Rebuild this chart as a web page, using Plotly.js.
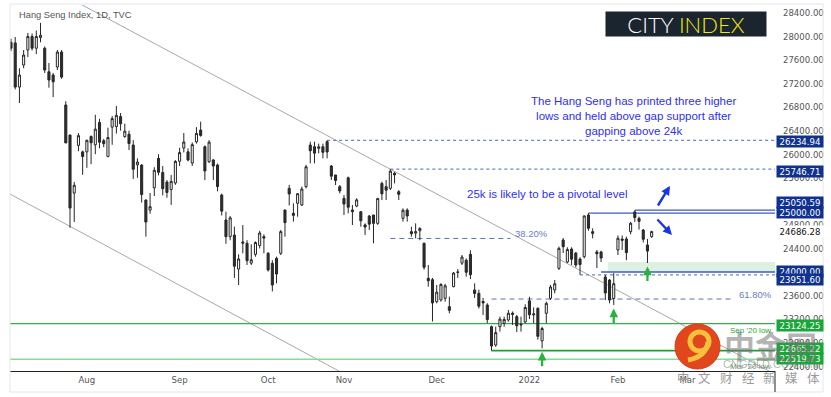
<!DOCTYPE html>
<html><head><meta charset="utf-8">
<script src="https://cdn.plot.ly/plotly-3.0.1.min.js"></script>
<style>html,body{margin:0;padding:0;background:#fff;overflow:hidden}#chart{width:831px;height:397px}</style>
</head><body><div id="chart"></div>
<script>
// ---------------- DATA ----------------
const dates = [
'2021-07-07','2021-07-08','2021-07-09','2021-07-12','2021-07-13','2021-07-14','2021-07-15','2021-07-16','2021-07-19','2021-07-20',
'2021-07-21','2021-07-22','2021-07-23','2021-07-26','2021-07-27','2021-07-28','2021-07-29','2021-07-30',
'2021-08-02','2021-08-03','2021-08-04','2021-08-05','2021-08-06','2021-08-09','2021-08-10','2021-08-11','2021-08-12','2021-08-13',
'2021-08-16','2021-08-17','2021-08-18','2021-08-19','2021-08-20','2021-08-23','2021-08-24','2021-08-25','2021-08-26','2021-08-27',
'2021-08-30','2021-08-31',
'2021-09-01','2021-09-02','2021-09-03','2021-09-06','2021-09-07','2021-09-08','2021-09-09','2021-09-10','2021-09-13','2021-09-14',
'2021-09-15','2021-09-16','2021-09-17','2021-09-20','2021-09-21','2021-09-23','2021-09-24','2021-09-27','2021-09-28','2021-09-29','2021-09-30',
'2021-10-04','2021-10-05','2021-10-06','2021-10-07','2021-10-08','2021-10-11','2021-10-12','2021-10-15','2021-10-18','2021-10-19',
'2021-10-20','2021-10-21','2021-10-22','2021-10-25','2021-10-26','2021-10-27','2021-10-28','2021-10-29',
'2021-11-01','2021-11-02','2021-11-03','2021-11-04','2021-11-05','2021-11-08','2021-11-09','2021-11-10','2021-11-11','2021-11-12',
'2021-11-15','2021-11-16','2021-11-17','2021-11-18','2021-11-19','2021-11-22','2021-11-23','2021-11-24','2021-11-25','2021-11-26',
'2021-11-29','2021-11-30',
'2021-12-01','2021-12-02','2021-12-03','2021-12-06','2021-12-07','2021-12-08','2021-12-09','2021-12-10','2021-12-13','2021-12-14',
'2021-12-15','2021-12-16','2021-12-17','2021-12-20','2021-12-21','2021-12-22','2021-12-23','2021-12-24','2021-12-28','2021-12-29',
'2021-12-30','2021-12-31',
'2022-01-03','2022-01-04','2022-01-05','2022-01-06','2022-01-07','2022-01-10','2022-01-11','2022-01-12','2022-01-13','2022-01-14',
'2022-01-17','2022-01-18','2022-01-19','2022-01-20','2022-01-21','2022-01-24','2022-01-25','2022-01-26','2022-01-27','2022-01-28',
'2022-01-31',
'2022-02-04','2022-02-07','2022-02-08','2022-02-09','2022-02-10','2022-02-11','2022-02-14','2022-02-15','2022-02-16'
];
const openP = [
27900,27890,27140,27515,27770,28000,27800,27980,27800,27400,27345,27480,27735,26836,26326,25340,26150,26040,
26040,26300,26160,26540,26230,25960,26460,26470,26640,26300,26340,26156,25820,25817,25223,25050,25430,25930,25690,25528,25400,25511,
25880,26105,26040,25850,26210,26411,26128,25873,25902,25817,25307,24883,24600,24628,24050,24487,24487,24150,24300,24450,24600,
24317,24147,24232,24317,25053,25420,24996,25166,25138,25449,26156,26128,26100,26128,26213,25800,25647,25449,
25251,25600,25053,25120,25024,24800,24951,24968,24826,25505,25449,25421,25675,25364,24911,25053,24685,24660,24700,24487,23893,23870,
23496,23525,23553,23412,23751,24000,24150,24200,24300,23695,23638,23500,23440,23072,22760,23072,23130,23185,23300,23242,23100,23150,
23510,23270,23383,22830,23299,23553,23695,24063,24543,24170,24390,24322,24220,24260,24968,24685,24340,24340,23915,23864,23550,
24374,24560,24560,24685,25020,24911,24713,24458,24600
];
const highP = [
27960,27990,27460,27770,28060,28050,28100,28230,27830,27550,27380,27770,27770,26900,26330,25530,26360,26060,
26250,26320,26670,26600,26260,26450,26650,26820,26700,26520,26400,26240,25930,25830,25230,25340,25780,26000,25800,25560,25650,25900,
26110,26360,26100,26200,26460,26553,26150,26240,25920,25840,25330,25024,24950,24770,24300,24798,24540,24470,24520,24700,24640,
24340,24200,24260,24713,25060,25480,25166,25340,25450,25820,26213,26213,26180,26180,26234.94,25817,25650,25477,
25307,25620,25138,25251,25030,24826,24968,24970,25260,25534,25562,25746.71,25700,25392,25081,25081,24770,24826,24760,24500,24119,23900,
23780,23808,23800,23582,24000,24050,24290,24230,24370,23808,23700,23560,23470,23090,23072,23242,23242,23355,23330,23270,23242,23450,
23580,23400,23400,23072,23497,23780,23865,24430,24577,24420,24420,24340,24250,24960,25000,24742,24374,24360,23950,23880,23983,
24620,24620,24600,24850,25050.59,24940,24730,24560,24700
];
const lowP = [
27750,27100,26870,27460,27650,27760,27700,27900,27380,27130,26970,27430,27280,26190,24750,24850,26050,25650,
25770,25830,26000,26100,26120,25950,26160,26350,26400,26280,26070,25580,25600,25180,24600,24990,25290,25640,25300,25260,25140,25480,
25800,26030,25880,25800,26180,26298,25560,25850,25562,25370,24960,24480,24540,23900,23779,24317,24120,24119,24260,24400,24317,
24006,23670,23807,24289,24600,25130,24855,24939,25120,25420,25845,25845,26015,25930,25930,25562,25477,25336,
24968,24996,24798,25100,24770,24628,24713,24487,24800,25222,25222,25392,25505,25222,24855,24855,24600,24572,24540,24040,23751,23160,
23468,23497,23497,23298,23740,23900,24120,23920,23880,23560,23380,23270,23130,22665.22,22730,22987,23072,23157,23100,22980,22987,23130,
23200,23130,22850,22704,23130,23525,23638,24034,24322,24150,24120,24080,23951.60,24230,24700,24572,24068,24170,23524,23468,23440,
24289,24374,24200,24640,24850,24720,24500,24153,24580
];
const closeP = [
27800,27140,27345,27685,28000,27800,28000,28020,27430,27260,27230,27735,27310,26192,25086,25473,26316,25961,
26235,26194,26426,26204,26179,26283,26605,26660,26517,26391,26181,25745,25867,25316,24849,25109,25727,25693,25415,25350,25539,25878,
26028,26207,25901,26163,26353,26320,25716,26205,25800,25450,25033,24600,24920,24099,24221,24510,24192,24208,24500,24663,24576,
24036,23780,23966,24685,24838,25326,24962,25330,25409,25787,26060,26018,26126,26032,26038,25628,25555,25377,
25154,25100,25025,25225,24870,24763,24813,24826,25247,25327,25390,25713,25650,25319,25049,24951,24651,24685,24740,24080,23852,23475,
23658,23789,23766,23349,23983,23996,24254,23995,23954,23635,23420,23475,23192,22744,22971,23200,23193,23300,23280,23086,23112,23397,
23274,23289,22907,23040,23468,23746,23800,24402,24429,24383,24218,24119,24127,24952,24742,24656,24310,24238,23643,23524,23802,
24573,24540,24329,24829,24924,24860,24556,24355,24686.28
];

// month tick labels
const monthLabels = {'08':'Aug','09':'Sep','10':'Oct','11':'Nov','12':'Dec','01':'2022','02':'Feb'};
const futureTickLabels = ['Mar'];
const futureTickBarsAhead = [8.5];

// horizontal levels (blue)
const levelPrices = [26234.94, 25746.71, 25050.59, 25000.00, 24000.00, 23951.60];
const levelFrom   = ['2021-10-26','2021-11-16','2022-02-10','2022-01-21','2022-01-26','2022-01-19'];
// support levels (green)
const supportPrices = [23124.25, 22665.22, 22519.73];
const supportFrom   = [null, '2021-12-20', null];
const supportNames  = ["Sep '20 low", '', "Mar '20 low"];
// fibonacci retracement levels
const fibNames  = ['38.20%', '61.80%'];
const fibPrices = [24570, 23541];
const fibFrom   = ['2021-11-16', '2021-12-20'];
// gap support zone
const gapZone = [24000, 24170];
const gapFrom = '2022-01-27';
// channel trend lines (bar index, price anchors)
const upperTrendIdx = [16.9, 180.0];
const upperTrendPrice = [28534, 22312];
const lowerTrendIdx = [-0.24, 77.8];
const lowerTrendPrice = [25324, 22319];
// higher lows
const higherLowDates = ['2022-01-06', '2022-01-31', '2022-02-15'];

// ---------------- LAYOUT HELPERS ----------------
const PL = 10, PR = 775, PT = 5, PB = 371;
const px = x => (x - PL) / (PR - PL);
const py = y => (PB - y) / (PB - PT);
const XMIN = -0.237, XMAX = 181.26;
const YMIN = 22319, YMAX = 28534;
const FONT = 'Liberation Sans Narrow, DejaVu Sans Condensed, Liberation Sans, Arial, sans-serif';
const ARIAL = 'Liberation Sans, Arial, sans-serif';
const idxOf = d => dates.indexOf(d);
const xIdx = dates.map((d, i) => i);

// ticks
const tickvals = [], ticktext = [];
for (let i = 1; i < dates.length; i++) {
  const m = dates[i].slice(5, 7);
  if (m !== dates[i - 1].slice(5, 7)) { tickvals.push(i); ticktext.push(monthLabels[m]); }
}
futureTickLabels.forEach((t, j) => { tickvals.push(dates.length - 1 + futureTickBarsAhead[j]); ticktext.push(t); });

const candle = {
  type: 'candlestick', x: xIdx, open: openP, high: highP, low: lowP, close: closeP,
  increasing: {line: {color: '#262626', width: 1}, fillcolor: '#ffffff'},
  decreasing: {line: {color: '#262626', width: 1}, fillcolor: '#2e2e2e'},
  whiskerwidth: 0, hoverinfo: 'skip', showlegend: false
};

const shapes = [];
// gap zone
shapes.push({type: 'rect', xref: 'x', yref: 'y', x0: idxOf(gapFrom) + 0.6, x1: XMAX, y0: gapZone[0], y1: gapZone[1],
  fillcolor: 'rgba(120,200,140,0.25)', line: {width: 0}, layer: 'below'});
// trend lines
shapes.push({type: 'line', xref: 'x', yref: 'y', x0: upperTrendIdx[0], x1: upperTrendIdx[1], y0: upperTrendPrice[0], y1: upperTrendPrice[1],
  line: {color: '#a8a8a8', width: 1}, layer: 'below'});
shapes.push({type: 'line', xref: 'x', yref: 'y', x0: lowerTrendIdx[0], x1: lowerTrendIdx[1], y0: lowerTrendPrice[0], y1: lowerTrendPrice[1],
  line: {color: '#a8a8a8', width: 1}, layer: 'below'});
// blue levels
const levelDash = ['dot', 'dot', 'solid', 'solid', 'solid', 'dot'];
levelPrices.forEach((p, j) => {
  shapes.push({type: 'line', xref: 'x', yref: 'y', x0: idxOf(levelFrom[j]), x1: XMAX, y0: p, y1: p,
    line: {color: levelDash[j] === 'dot' ? '#7083c8' : '#3f5db8', width: levelDash[j] === 'dot' ? 1.2 : 1.3, dash: levelDash[j]}, layer: 'below'});
});
// fib lines
const fibTo = [118.5, 171.6];
fibPrices.forEach((p, j) => {
  shapes.push({type: 'line', xref: 'x', yref: 'y', x0: idxOf(fibFrom[j]), x1: fibTo[j], y0: p, y1: p,
    line: {color: '#5b6fc0', width: 1, dash: '5px,4px'}, layer: 'below'});
});
// green supports
const supColor = ['#34b04a', '#1f9e34', '#8ed79a'];
const supWidth = [1.3, 1.8, 1.5];
supportPrices.forEach((p, j) => {
  shapes.push({type: 'line', xref: 'x', yref: 'y', x0: supportFrom[j] ? idxOf(supportFrom[j]) : XMIN, x1: XMAX, y0: p, y1: p,
    line: {color: supColor[j], width: supWidth[j]}, layer: 'below'});
});
// frame
shapes.push({type: 'line', xref: 'paper', yref: 'paper', x0: 0, x1: px(823), y0: py(4), y1: py(4), line: {color: '#e3e6ee', width: 1}});
shapes.push({type: 'line', xref: 'paper', yref: 'paper', x0: 0, x1: 0, y0: py(392), y1: py(4), line: {color: '#e3e6ee', width: 1}});
shapes.push({type: 'line', xref: 'paper', yref: 'paper', x0: 0, x1: px(823), y0: py(392), y1: py(392), line: {color: '#e3e6ee', width: 1}});
shapes.push({type: 'line', xref: 'paper', yref: 'paper', x0: px(823), x1: px(823), y0: py(392), y1: py(4), line: {color: '#e3e6ee', width: 1}});
shapes.push({type: 'line', xref: 'paper', yref: 'paper', x0: 1, x1: 1, y0: py(392), y1: 0, line: {color: '#222', width: 1}});
// watermark logo
shapes.push({type: 'circle', xref: 'paper', yref: 'paper', x0: px(675), x1: px(720), y0: py(369), y1: py(324),
  fillcolor: '#e2461d', line: {color: '#d63a18', width: 1}});
shapes.push({type: 'circle', xref: 'paper', yref: 'paper', x0: px(690), x1: px(709), y0: py(351), y1: py(332),
  fillcolor: 'rgba(0,0,0,0)', line: {color: '#f6c13c', width: 5}});
shapes.push({type: 'path', xref: 'paper', yref: 'paper',
  path: `M ${px(708)} ${py(342)} Q ${px(706)} ${py(357)} ${px(688)} ${py(360)}`,
  line: {color: '#f6c13c', width: 5}});

// ---------------- ANNOTATIONS ----------------
const ann = [];
ann.push({xref: 'paper', yref: 'paper', x: px(17), y: py(15), xanchor: 'left', yanchor: 'middle', showarrow: false,
  text: 'Hang Seng Index, 1D, TVC', font: {family: ARIAL, size: 9.3, color: '#555'}});
ann.push({xref: 'paper', yref: 'paper', x: px(686), y: py(24), xanchor: 'center', yanchor: 'middle', showarrow: false,
  text: 'CITY <span style="color:#f2e916">INDEX</span>', bgcolor: '#1b252f', width: 156, height: 20, borderpad: 2,
  font: {family: 'Lato, Open Sans, sans-serif', size: 22, weight: 300, color: '#ffffff'}});
ann.push({xref: 'paper', yref: 'paper', x: px(633), y: py(116), xanchor: 'center', yanchor: 'middle', showarrow: false, align: 'center',
  text: 'The Hang Seng has printed three higher<br>lows and held above gap support after<br>gapping above 24k',
  font: {family: ARIAL, size: 11.5, color: '#2f2ff2'}});
ann.push({xref: 'paper', yref: 'paper', x: px(547), y: py(194), xanchor: 'center', yanchor: 'middle', showarrow: false,
  text: '25k is likely to be a pivotal level', font: {family: ARIAL, size: 11.5, color: '#2f2ff2'}});
// fib labels
fibPrices.forEach((p, j) => ann.push({xref: 'x', yref: 'y', x: fibTo[j], y: p, xanchor: 'left', yanchor: 'middle', xshift: 3, yshift: 5,
  showarrow: false, text: fibNames[j], font: {family: ARIAL, size: 9.5, color: '#6a7cc4'}}));
// support names
supportPrices.forEach((p, j) => { if (supportNames[j]) ann.push({xref: 'paper', yref: 'y', x: px(773), y: p, xanchor: 'right', yanchor: 'middle',
  yshift: -7, showarrow: false, text: supportNames[j], font: {family: ARIAL, size: 8, color: j === 0 ? '#2aa83a' : '#6f9f77'}}); });
// green higher-low arrows
higherLowDates.forEach(d => { const i = idxOf(d); ann.push({xref: 'x', yref: 'y', x: i, y: lowP[i] - 60, ax: 0, ay: 16, text: '',
  showarrow: true, arrowhead: 2, arrowsize: 0.75, arrowwidth: 2.3, arrowcolor: '#29b23c'}); });
// blue direction arrows
ann.push({xref: 'paper', yref: 'paper', x: px(670), y: py(186), ax: -13, ay: 21, text: '', showarrow: true,
  arrowhead: 2, arrowsize: 0.75, arrowwidth: 2.4, arrowcolor: '#1a36e0'});
ann.push({xref: 'paper', yref: 'paper', x: px(672), y: py(235), ax: -16, ay: -17, text: '', showarrow: true,
  arrowhead: 2, arrowsize: 0.75, arrowwidth: 2.4, arrowcolor: '#1a36e0'});
// price boxes on the axis
const boxPrices = levelPrices.concat(supportPrices);
const boxColor = ['#10318f', '#10318f', '#10318f', '#10318f', '#10318f', '#10318f', '#18a83a', '#18a83a', '#18a83a'];
const boxShift = [-1.5, -2, 8, 1, 1, -4.5, -2, 2, 1];
boxPrices.forEach((p, j) => ann.push({xref: 'paper', yref: 'y', x: px(776), y: p, yshift: boxShift[j], xanchor: 'left', yanchor: 'middle',
  showarrow: false, text: p.toFixed(2), bgcolor: boxColor[j], width: 44, height: 9, borderpad: 1,
  font: {family: FONT, size: 9.5, color: '#ffffff'}}));
const lastClose = closeP[closeP.length - 1];
ann.push({xref: 'paper', yref: 'y', x: px(776), y: lastClose, xanchor: 'left', yanchor: 'middle', showarrow: false,
  text: lastClose.toFixed(2), bgcolor: '#ffffff', width: 44, height: 9, borderpad: 1, font: {family: FONT, size: 9.5, color: '#111'}});
// watermark
ann.push({xref: 'paper', yref: 'paper', x: px(770), y: py(344), xanchor: 'center', yanchor: 'middle', showarrow: false,
  text: '<b>中金网</b>', font: {family: 'Noto Sans CJK SC', size: 31, color: 'rgba(115,115,115,0.55)'}});
ann.push({xref: 'paper', yref: 'paper', x: px(770), y: py(364), xanchor: 'center', yanchor: 'middle', showarrow: false,
  text: 'CNGOLD.COM.CN', font: {family: ARIAL, size: 11, color: 'rgba(120,120,120,0.55)'}});
['中', '文', '财', '经', '新', '媒', '体'].forEach((c, j) => ann.push({xref: 'paper', yref: 'paper', x: px(683 + j * 21.7), y: py(378),
  xanchor: 'center', yanchor: 'middle', showarrow: false, text: c, font: {family: 'Noto Sans CJK SC', size: 12.5, color: '#9b9b9b'}}));

const layout = {
  width: 831, height: 397, margin: {l: PL, r: 831 - PR, t: PT, b: 397 - PB, pad: 0},
  paper_bgcolor: '#ffffff', plot_bgcolor: '#ffffff', showlegend: false, dragmode: false,
  xaxis: {range: [XMIN, XMAX], showgrid: false, zeroline: false, showline: true, linecolor: '#222', linewidth: 1,
    tickvals: tickvals, ticktext: ticktext, ticks: '', tickfont: {family: FONT, size: 9.5, color: '#555'},
    rangeslider: {visible: false}, automargin: false, fixedrange: true},
  yaxis: {range: [YMIN, YMAX], side: 'right', dtick: 400, tick0: 0, tickformat: '.2f', showgrid: false, zeroline: false,
    showline: false, ticks: '', ticklabelstandoff: 7, tickfont: {family: FONT, size: 9.5, color: '#555'},
    automargin: false, fixedrange: true},
  shapes: shapes, annotations: ann
};
Plotly.newPlot('chart', [candle], layout, {displayModeBar: false, staticPlot: true});
</script></body></html>
